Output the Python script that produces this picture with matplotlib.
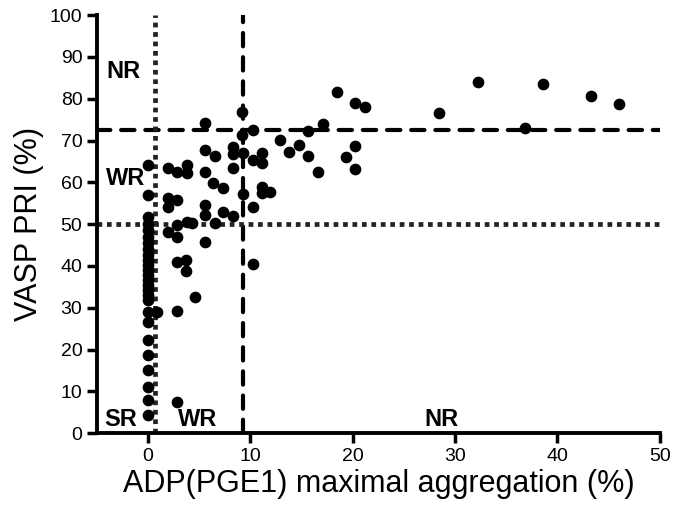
import numpy as np
import matplotlib.pyplot as plt

plt.rcParams['font.family'] = ['Liberation Sans', 'DejaVu Sans']

# Points lying on the x = 0 column (SR group)
sr_y = [4.3, 7.9, 11.0, 15.1, 18.7, 22.2, 26.6, 29.0, 31.8, 33.0, 34.2, 35.4,
        36.6, 37.8, 39.0, 40.2, 41.4, 42.6, 44.0, 45.5, 47.0, 48.5, 50.0,
        51.7, 57.0, 64.1]
sr_x = [0.0] * len(sr_y)

# Remaining patients
other_x = [0.9, 1.9, 2.8, 2.8, 3.8, 4.3, 5.6, 5.6, 5.6, 6.5, 7.3, 8.3, 10.2,
           2.8, 3.7, 3.7, 4.6, 2.8, 2.8, 10.2,
           1.9, 2.8, 3.8, 3.8, 1.9, 1.9, 2.8,
           5.6, 5.6, 6.5, 5.6, 6.3, 7.3, 8.3, 8.3, 9.3, 8.3,
           9.2, 9.2, 10.2, 10.2, 11.1, 11.1, 9.3, 11.1, 11.1, 11.9,
           12.9, 13.8, 14.7, 15.6, 15.6, 16.6, 17.1,
           18.5, 20.2, 21.2, 20.2, 19.3, 20.2,
           28.4, 32.2, 36.8, 38.6, 43.3, 46.0]
other_y = [29.0, 48.1, 49.8, 47.0, 50.5, 50.3, 45.7, 52.2, 54.5, 50.2, 53.0, 51.9, 54.0,
           41.0, 41.4, 38.8, 32.6, 29.2, 7.4, 40.4,
           63.4, 62.4, 64.1, 62.2, 56.2, 54.1, 55.7,
           74.2, 67.7, 66.3, 62.4, 59.8, 58.6, 68.4, 66.7, 67.0, 63.4,
           76.8, 71.3, 72.6, 65.3, 67.0, 64.6, 57.3, 58.9, 57.4, 57.7,
           70.1, 67.2, 68.9, 72.2, 66.3, 62.4, 73.9,
           81.6, 79.0, 78.0, 68.7, 66.0, 63.2,
           76.6, 84.0, 73.0, 83.5, 80.6, 78.7]

# cut-off lines
vasp_cut_hi = 72.5
vasp_cut_lo = 50.0
adp_cut_lo = 0.7
adp_cut_hi = 9.3

fig = plt.figure(figsize=(6.83, 5.2), dpi=100)
ax = fig.add_axes([0.142, 0.167, 0.824, 0.804])

dash = dict(color='black', lw=3.0, ls=(0, (3.2, 2.6)), dash_capstyle='round', zorder=1)
dot = dict(color='#222222', lw=3.4, ls=(0, (1, 1)), zorder=1)
ax.axhline(vasp_cut_hi, **dash)
ax.axvline(adp_cut_hi, **dash)
ax.axhline(vasp_cut_lo, **dot)
ax.axvline(adp_cut_lo, **dot)

ax.scatter(sr_x, sr_y, s=55, color='black', zorder=3)
ax.scatter(other_x, other_y, s=55, color='black', zorder=3)

# group labels
lab = dict(fontsize=17, fontweight='bold', ha='center', va='center')
ax.text(-2.4, 86.4, 'NR', **lab)
ax.text(-2.2, 61.0, 'WR', **lab)
ax.text(-2.7, 3.3, 'SR', **lab)
ax.text(4.8, 3.3, 'WR', **lab)
ax.text(28.7, 3.3, 'NR', **lab)

ax.set_xlim(-5, 50)
ax.set_ylim(0, 100)
ax.set_xticks(np.arange(0, 51, 10))
ax.set_yticks(np.arange(0, 101, 10))
ax.tick_params(width=2.5, length=7, labelsize=14, direction='out')
for side in ['top', 'right']:
    ax.spines[side].set_visible(False)
for side in ['left', 'bottom']:
    ax.spines[side].set_linewidth(2.8)

ax.set_xlabel('ADP(PGE1) maximal aggregation (%)', fontsize=22, labelpad=3)
ax.set_ylabel('VASP PRI (%)', fontsize=22, labelpad=4)

fig.savefig('out.png', dpi=100)
